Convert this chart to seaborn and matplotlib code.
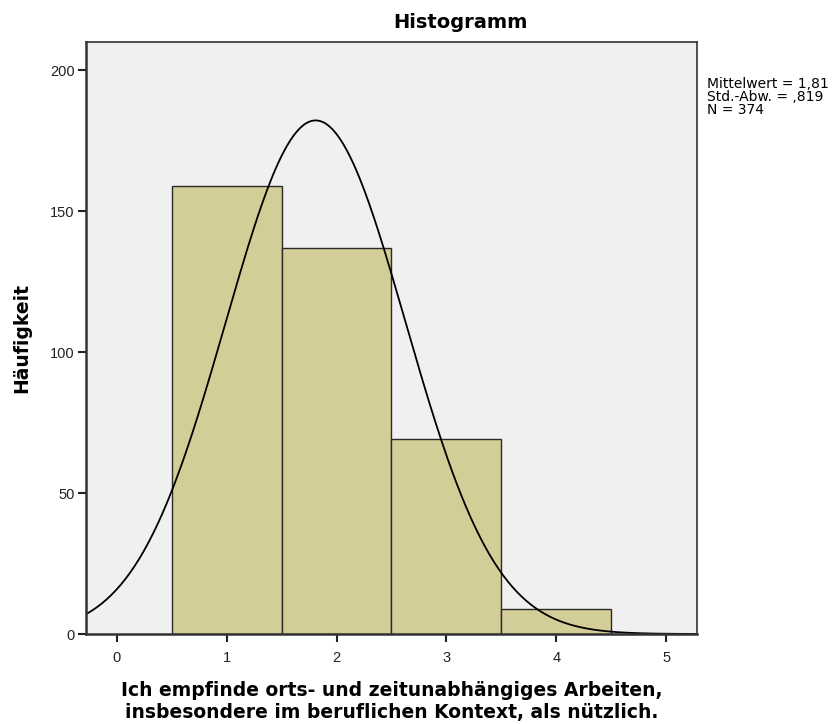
import numpy as np
import pandas as pd
import matplotlib
matplotlib.use("Agg")
import matplotlib.pyplot as plt
import seaborn as sns

# Werte aus dem SPSS-Histogramm
antwort = [1, 2, 3, 4]
haeufigkeit = [159, 137, 69, 9]
mittelwert = 1.81
std_abw = 0.819
n_gesamt = 374

x_label = "Ich empfinde orts- und zeitunabhängiges Arbeiten,\ninsbesondere im beruflichen Kontext, als nützlich."

sns.set_theme(style="white")
plt.rcParams["font.family"] = ["Liberation Sans", "DejaVu Sans"]
plt.rcParams["text.color"] = "black"
plt.rcParams["axes.labelcolor"] = "black"

# breitere Schrift fuer die fetten Beschriftungen (wie bei SPSS)
fett = dict(family="DejaVu Sans", fontweight="bold", fontsize=13.5)

df = pd.DataFrame({"wert": np.repeat(antwort, haeufigkeit)})

fig = plt.figure(figsize=(8.33, 7.24), dpi=100)
ax = fig.add_axes([0.1032, 0.1243, 0.7335, 0.8177])
ax.set_facecolor("#F0F0F0")

sns.histplot(data=df, x="wert", discrete=True, ax=ax,
             color="#D3CE97", edgecolor="#2a2a2a", linewidth=1.0, alpha=1.0)

# Normalverteilungskurve (SPSS-Option), skaliert auf N * Klassenbreite
kx = np.linspace(-0.3, 5.3, 400)
ky = n_gesamt / (std_abw * np.sqrt(2 * np.pi)) * np.exp(-0.5 * ((kx - mittelwert) / std_abw) ** 2)
sns.lineplot(x=kx, y=ky, ax=ax, color="black", linewidth=1.3)

ax.set_xlim(-0.28, 5.28)
ax.set_ylim(0, 210)
ax.set_xticks([0, 1, 2, 3, 4, 5])
ax.set_yticks([0, 50, 100, 150, 200])
ax.tick_params(axis="both", bottom=True, left=True, direction="out", length=6, width=1.5,
               color="#222222", labelsize=10.5, labelcolor="#222222", pad=2)
ax.tick_params(axis="x", pad=6)
for s in ax.spines.values():
    s.set_color("#333333")
    s.set_linewidth(1.2)
ax.spines["left"].set_linewidth(1.8)
ax.spines["bottom"].set_linewidth(1.8)

ax.set_xlabel(x_label, labelpad=12, linespacing=1.15, **fett)
ax.set_ylabel("Häufigkeit", labelpad=14, **fett)

fig.text(460 / 833, 1 - 22 / 724, "Histogramm", ha="center", va="center",
         family="DejaVu Sans", fontweight="bold", fontsize=14)
fig.text(707 / 833, 1 - 77 / 724,
         f"Mittelwert = {mittelwert:.2f}".replace(".", ",") + "\n"
         + f"Std.-Abw. = {std_abw:.3f}".replace("0.", ",") + "\n"
         + f"N = {n_gesamt}",
         ha="left", va="top", family="DejaVu Sans", fontsize=10, linespacing=0.92)

fig.savefig("out.png", dpi=100, facecolor="white")
